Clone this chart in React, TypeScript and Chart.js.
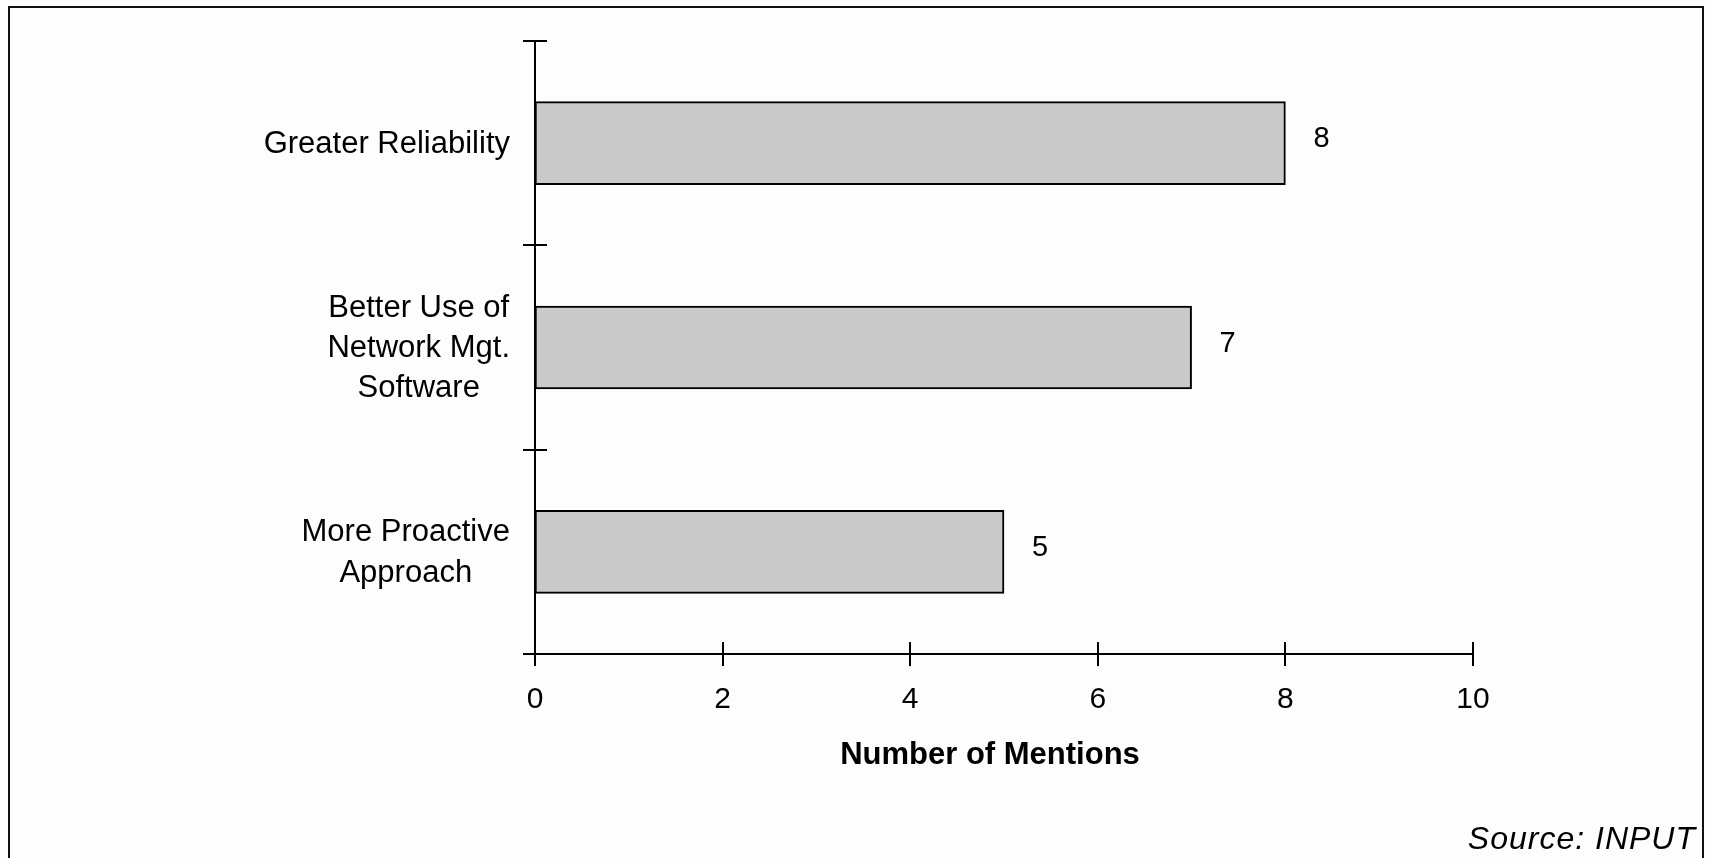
import React, { useEffect, useRef } from "react";
import { Chart, registerables } from "chart.js";

Chart.register(...registerables);

const categories: string[][] = [
  ["Greater Reliability"],
  ["Better Use of", "Network Mgt.", "Software"],
  ["More Proactive", "Approach"],
];
const mentions: number[] = [8, 7, 5];
const xTickValues: number[] = [0, 2, 4, 6, 8, 10];
const xTitle = "Number of Mentions";
const sourceNote = "Source: INPUT";

const FONT = "'Liberation Sans', Arial, Helvetica, sans-serif";

const decor = {
  id: "decor",
  beforeDraw(chart: any) {
    const ctx = chart.ctx;
    ctx.save();
    ctx.fillStyle = "#fdfdfd";
    ctx.fillRect(0, 0, chart.width, chart.height);
    ctx.strokeStyle = "#111";
    ctx.lineWidth = 2;
    ctx.strokeRect(9, 7, chart.width - 18, chart.height + 40);
    ctx.restore();
  },
  afterDraw(chart: any) {
    const { ctx, chartArea, scales } = chart;
    const xs = scales.x;
    const ys = scales.y;
    ctx.save();
    ctx.strokeStyle = "#000";
    ctx.lineWidth = 2;
    // y-axis boundary ticks crossing the axis
    const pitch = ys.getPixelForValue(1) - ys.getPixelForValue(0);
    for (let i = 0; i <= categories.length; i++) {
      const py = Math.round(ys.getPixelForValue(i) - pitch / 2);
      ctx.beginPath();
      ctx.moveTo(chartArea.left - 12, py);
      ctx.lineTo(chartArea.left + 12, py);
      ctx.stroke();
    }
    // x-axis ticks crossing the axis
    for (const v of xTickValues) {
      const px = Math.round(xs.getPixelForValue(v));
      ctx.beginPath();
      ctx.moveTo(px, chartArea.bottom - 12);
      ctx.lineTo(px, chartArea.bottom + 12);
      ctx.stroke();
    }
    // category labels: block right-aligned, lines centered
    ctx.fillStyle = "#000";
    ctx.font = `31px ${FONT}`;
    ctx.textAlign = "center";
    ctx.textBaseline = "middle";
    const lineH = 40.4;
    categories.forEach((lines, i) => {
      const w = Math.max(...lines.map((l) => ctx.measureText(l).width));
      const cx = chartArea.left - 25 - w / 2;
      const cy = ys.getPixelForValue(i) + 1;
      lines.forEach((l, k) => {
        ctx.fillText(l, cx, cy + (k - (lines.length - 1) / 2) * lineH);
      });
    });
    // value labels
    ctx.font = `29px ${FONT}`;
    ctx.textAlign = "left";
    const meta = chart.getDatasetMeta(0);
    meta.data.forEach((bar: any, i: number) => {
      ctx.fillText(String(mentions[i]), bar.x + 28, bar.y - 4);
    });
    // axis title
    ctx.font = `bold 31px ${FONT}`;
    ctx.textAlign = "center";
    ctx.fillText(xTitle, (chartArea.left + chartArea.right) / 2 - 14, chartArea.bottom + 101);
    // source note
    ctx.font = `italic 32px ${FONT}`;
    ctx.textAlign = "right";
    try {
      (ctx as any).letterSpacing = "1px";
    } catch (e) {}
    ctx.fillText(sourceNote, chart.width - 16, chart.height - 18);
    ctx.restore();
  },
};

export default function App() {
  const ref = useRef<HTMLCanvasElement | null>(null);
  useEffect(() => {
    if (!ref.current) return;
    Chart.defaults.font.family = FONT;
    const chart = new Chart(ref.current, {
      type: "bar",
      data: {
        labels: categories.map((c) => c.join(" ")),
        datasets: [
          {
            data: mentions,
            backgroundColor: "#cacaca",
            borderColor: "#000",
            borderWidth: 2,
            borderSkipped: false,
            barThickness: 83,
          },
        ],
      },
      options: {
        indexAxis: "y",
        animation: false,
        responsive: false,
        layout: { padding: { top: 41, right: 239, left: 0, bottom: 0 } },
        plugins: { legend: { display: false }, tooltip: { enabled: false } },
        scales: {
          x: {
            min: 0,
            max: 10,
            ticks: {
              stepSize: 2,
              color: "#000",
              font: { size: 30 },
              padding: 28,
            },
            grid: { display: false, drawTicks: false, tickLength: 0 },
            border: { display: true, color: "#000", width: 2 },
            afterFit: (s: any) => {
              s.height = 204;
            },
          },
          y: {
            ticks: { display: false },
            grid: { display: false, drawTicks: false, tickLength: 0 },
            border: { display: true, color: "#000", width: 2 },
            afterFit: (s: any) => {
              s.width = 535;
            },
          },
        },
      },
      plugins: [decor],
    });
    return () => chart.destroy();
  }, []);
  return (
    <div style={{ position: "fixed", left: 0, top: 0, width: 1712, height: 858 }}>
      <canvas ref={ref} width={1712} height={858} />
    </div>
  );
}
